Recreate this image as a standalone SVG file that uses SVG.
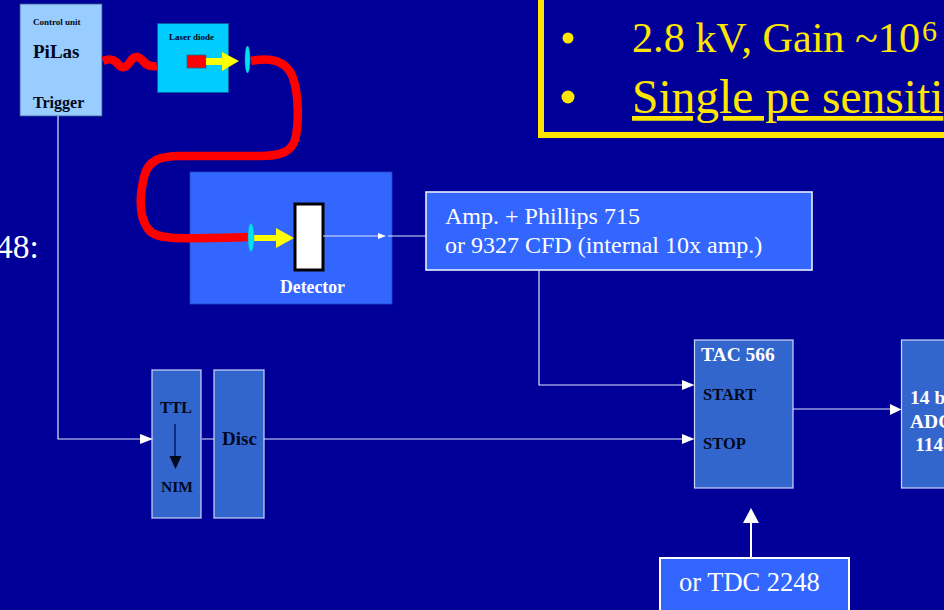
<svg xmlns="http://www.w3.org/2000/svg" width="944" height="610" viewBox="0 0 944 610">
<style>
text{font-family:"Liberation Serif","Times New Roman",serif}
.b{font-weight:bold}
.mod{fill:#3366cc;stroke:#ccd6f5;stroke-width:1.2}
.wire{fill:none;stroke:#dfe6fb;stroke-width:1.2}
.fiber{fill:none;stroke:#ff0000;stroke-width:8.500}
.head{fill:#ffffff}
.beam{fill:#ffff00}
.lens{fill:#00e0f0;stroke:#1a9ac0;stroke-width:.5}
.y{fill:#ffe600}
.w{fill:#ffffff}
.k{fill:#000820}
</style>
<rect width="944" height="610" fill="#000099"/>

<g id="notes-box">
<rect x="541" y="-20" width="440" height="155" fill="none" stroke="#ffe600" stroke-width="6"/>
<circle class="y" cx="568" cy="38" r="5.500"/>
<circle class="y" cx="568" cy="97" r="6.500"/>
<text class="y" x="632" y="52" font-size="42" textLength="288" lengthAdjust="spacingAndGlyphs">2.8 kV, Gain ~10</text>
<text class="y" x="922" y="41" font-size="30">6</text>
<text class="y" x="632" y="113" font-size="47.500" text-decoration="underline">Single pe sensiti</text>
</g>

<text id="left-fragment" class="w" x="-4" y="258" font-size="33.500">48:</text>

<g id="pilas">
<rect x="20" y="4" width="82" height="112" fill="#99ccff" stroke="#33558a" stroke-width=".8"/>
<text class="b k" x="33" y="25" font-size="9">Control unit</text>
<text class="b k" x="33" y="58" font-size="19">PiLas</text>
<text class="b k" x="33" y="108" font-size="16">Trigger</text>
</g>

<g id="laser-diode">
<rect x="157.500" y="23.500" width="71" height="69" fill="#00ccff" stroke="#0a5f96" stroke-width=".8"/>
<text class="b k" x="169" y="40" font-size="9">Laser diode</text>
<rect x="187" y="55" width="19" height="13" fill="#ff0000" stroke="#0a6f96" stroke-width=".8"/>
<polygon class="beam" points="206,58 222,58 222,52 239,61 222,71 222,65 206,65"/>
</g>

<path id="fiber-a" class="fiber" stroke-width="9" d="M103 61C110 58 114 59 118 64C122 69 126 68 130 62C134 55 139 56 143 61C147 66 151 67 157 66"/>

<g id="detector">
<rect x="190" y="172" width="202" height="132" fill="#3366ff" stroke="#1f46b8" stroke-width=".8"/>
<rect x="295" y="204" width="28" height="66" fill="#fff" stroke="#000" stroke-width="3"/>
<polygon class="beam" points="253,235 276,235 276,228 294,238 276,248 276,241 253,241"/>
<text class="b" x="280" y="293" font-size="18" fill="#fff" textLength="65" lengthAdjust="spacingAndGlyphs">Detector</text>
</g>

<path id="fiber-b" class="fiber" d="M251 61C270 57 287 60 293 78C299 95 299 125 295 140C291 152 280 156 260 156H180C160 156 148 160 144 177C140 194 138 215 148 229C156 240 175 239 250 237"/>
<ellipse id="lens-a" class="lens" cx="247.500" cy="59.500" rx="2.500" ry="13.500"/>
<ellipse id="lens-b" class="lens" cx="251" cy="237.500" rx="3" ry="14"/>

<g id="amp">
<rect x="426" y="192" width="386" height="78" fill="#3366ff" stroke="#e8edff" stroke-width="1.600"/>
<text class="w" x="445" y="224" font-size="24">Amp. + Phillips 715</text>
<text class="w" x="445" y="253" font-size="24">or 9327 CFD (internal 10x amp.)</text>
</g>

<g id="ttl-nim">
<rect class="mod" x="152" y="370" width="49" height="148"/>
<text class="b k" x="160" y="413" font-size="16">TTL</text>
<path d="M175 424V458" stroke="#001a66" stroke-width="1.500" fill="none"/>
<polygon points="169.500,456 181.500,456 175.500,469" fill="#000820"/>
<text class="b k" x="161" y="492" font-size="15.500">NIM</text>
</g>

<g id="disc">
<rect class="mod" x="214" y="370" width="50" height="148"/>
<text class="b k" x="222" y="445" font-size="19">Disc</text>
</g>

<g id="tac">
<rect class="mod" x="694.500" y="340" width="98.500" height="148"/>
<text class="b w" x="701" y="361" font-size="19.500">TAC 566</text>
<text class="b k" x="703" y="400" font-size="16.500">START</text>
<text class="b k" x="703" y="449" font-size="16.500">STOP</text>
</g>

<g id="adc">
<rect class="mod" x="901.500" y="340" width="60" height="148"/>
<text class="b w" x="910" y="404" font-size="19.500">14 bit</text>
<text class="b w" x="910" y="428" font-size="19.500">ADC</text>
<text class="b w" x="915" y="451" font-size="19.500">1142</text>
</g>

<g id="tdc">
<rect x="660" y="558" width="189" height="60" fill="#3366ff" stroke="#fff" stroke-width="2"/>
<text class="w" x="679" y="591" font-size="26.500">or TDC 2248</text>
</g>

<g id="connectors">
<path class="wire" d="M58 116V439H140"/><polygon class="head" points="140,434 153,439 140,444"/>
<path class="wire" d="M202 439H214M264 439H682"/><polygon class="head" points="682,434 694.500,439 682,444"/>
<path class="wire" d="M539 270V385H682"/><polygon class="head" points="682,380 694.500,385 682,390"/>
<path class="wire" d="M793 409H890"/><polygon class="head" points="890,404 901.500,409.500 890,415"/>
<path class="wire" d="M323 236H378M388 236H426"/><polygon class="head" points="378,233 386,236 378,239"/>
<path fill="none" stroke="#fff" stroke-width="2" d="M751 557V522"/><polygon class="head" points="743,523 751,508 759,523"/>
</g>
</svg>
